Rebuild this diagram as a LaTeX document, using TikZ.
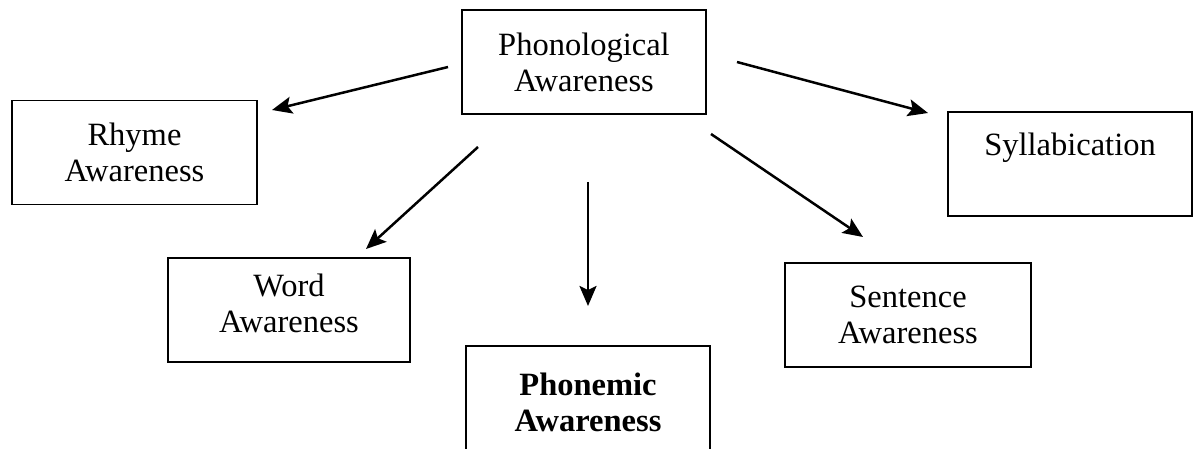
\documentclass[tikz,border=0pt]{standalone}
\usepackage{fontspec}
\setmainfont{Liberation Serif}
\usetikzlibrary{arrows.meta}

\begin{document}
\begin{tikzpicture}[x=1pt,y=-1pt]
\tikzstyle{block}=[draw,line width=1.6pt,align=center,inner sep=0pt,
  minimum width=244pt,minimum height=104pt,font=\fontsize{32.5}{36}\selectfont]
\tikzstyle{link}=[line width=2.5pt,-{Stealth[length=20pt,width=17pt,inset=4pt]}]
\clip (0,0) rectangle (1194,449);

\node [block] (phon) at (584,62) {Phonological\\Awareness};
\node [block,minimum width=245pt] (rhyme) at (134.5,152.5) {Rhyme\\Awareness};
\node [block,minimum width=242pt,text depth=14pt] (word) at (289,310) {Word\\Awareness};
\node [block,minimum height=112pt] (phonemic) at (588,402) {\textbf{Phonemic}\\\textbf{Awareness}};
\node [block,minimum width=246pt] (sent) at (908,315) {Sentence\\Awareness};
\node [block] (syll) at (1070,164) {Syllabication\\[-8pt]\strut};

% arrow ends
\coordinate (r1) at (448,67);  \coordinate (r2) at (272,110);
\coordinate (s1) at (737,62);  \coordinate (s2) at (928,113);
\coordinate (w1) at (478,147); \coordinate (w2) at (366,249);
\coordinate (p1) at (588,182); \coordinate (p2) at (588,306);
\coordinate (e1) at (711,134); \coordinate (e2) at (863,237);

\draw [link] (r1) -- (r2);
\draw [link] (s1) -- (s2);
\draw [link] (w1) -- (w2);
\draw [link] (p1) -- (p2);
\draw [link] (e1) -- (e2);
\end{tikzpicture}
\end{document}
